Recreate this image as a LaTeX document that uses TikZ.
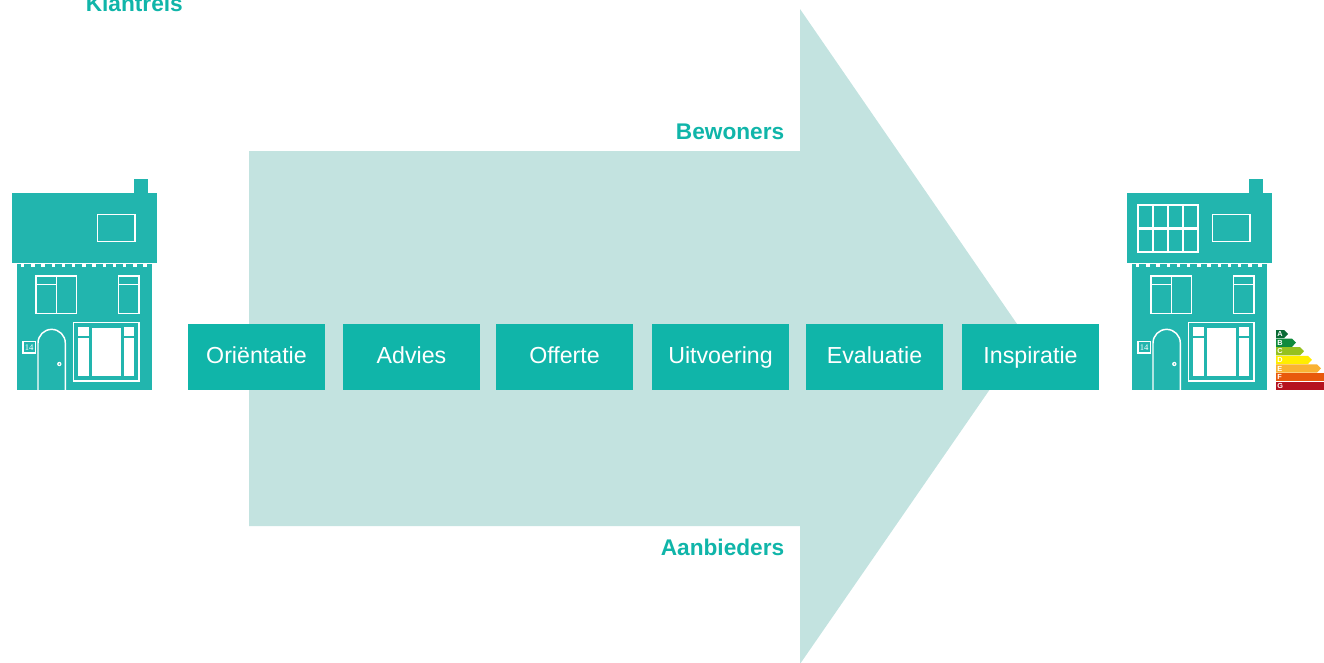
\documentclass[tikz,border=0pt]{standalone}
\usepackage{fontspec}
\setmainfont{Liberation Sans}
\newfontfamily\plaatfont{Liberation Serif}
\usetikzlibrary{positioning}

\definecolor{boxgreen}{HTML}{10B5A9}
\definecolor{housegreen}{HTML}{22B5AE}
\definecolor{arrowgreen}{HTML}{C3E3E0}
\definecolor{labelA}{HTML}{0A6B35}
\definecolor{labelB}{HTML}{0F8A3C}
\definecolor{labelC}{HTML}{95C11F}
\definecolor{labelD}{HTML}{FFED00}
\definecolor{labelE}{HTML}{F9B233}
\definecolor{labelF}{HTML}{E8590C}
\definecolor{labelG}{HTML}{B5121F}

\tikzset{
  stepbox/.style={fill=boxgreen,text=white,minimum width=103pt,minimum height=49.5pt,
                  inner sep=0pt,text height=12pt,text depth=3pt,
                  font=\fontsize{17.4}{20}\selectfont},
  heading/.style={text=boxgreen,inner sep=0pt,font=\fontsize{17}{20}\selectfont\bfseries},
  pane/.style={draw=white,line width=1.1pt},
  pics/woning/.style={code={
    \fill[housegreen] (12,193) rectangle (157,262.5);
    \fill[housegreen] (134,179) rectangle (148,193);
    \fill[housegreen] (17,264) rectangle (152,390);
    \foreach \tand in {0,...,12}
      \fill[white] (21+10.2*\tand,264) rectangle +(3.4,3.4);
    \draw[pane] (97.3,214.3) rectangle (135,241.7);
    % ramen boven
    \draw[pane] (36,276) rectangle (76.7,313.7);
    \draw[pane] (56.3,276) -- (56.3,313.7) (36,284.3) -- (56.3,284.3);
    \draw[pane] (118.3,276) rectangle (139,313.7);
    \draw[pane] (118.3,284.3) -- (139,284.3);
    % etalage
    \draw[pane] (73.7,322.7) rectangle (139,381);
    \fill[white] (78.3,327.3) rectangle (89.3,336);
    \fill[white] (78.3,337.7) rectangle (89.3,376);
    \fill[white] (92,327.5) rectangle (120.7,375.7);
    \fill[white] (123.7,327.3) rectangle (134.3,336);
    \fill[white] (123.7,337.7) rectangle (134.3,376);
    % deur
    \draw[pane] (38,390) -- (38,343) arc[start angle=180,end angle=0,x radius=13.65,y radius=-13.65] -- (65.3,390);
    \fill[white] (59.3,364) circle (2.2);
    \fill[housegreen] (59.3,364) circle (0.8);
    \node[pane,text=white,minimum width=9.5pt,minimum height=8.8pt,inner sep=0pt,
          font=\fontsize{6.5}{7}\selectfont\plaatfont] (-nummer) at (29.2,347.3) {14};
  }},
}

\begin{document}
\begin{tikzpicture}[x=0.75pt,y=-0.75pt]
\useasboundingbox (0,0) rectangle (1324,662);

% pijl
\fill[arrowgreen] (249,151) -- (800,151) -- (800,9) -- (1026,337) -- (800,664) -- (800,526) -- (249,526) -- cycle;

\node[heading,anchor=base west] (klantreis) at (85.5,11) {Klantreis};
\node[heading,anchor=base east] (bewoners) at (784.5,139) {Bewoners};
\node[heading,anchor=base east] (aanbieders) at (784.5,555.5) {Aanbieders};

\begin{scope}[every node/.style={stepbox}]
    \node (orientatie) at (256.5,357) {Oriëntatie};
    \node (advies) at (411.5,357) {Advies};
    \node (offerte) at (564.5,357) {Offerte};
    \node (uitvoering) at (720.5,357) {Uitvoering};
    \node (evaluatie) at (874.5,357) {Evaluatie};
    \node (inspiratie) at (1030.5,357) {Inspiratie};
\end{scope}

\pic (oud) at (0,0) {woning};
\pic (nieuw) at (1115,0) {woning};

% zonnepanelen
\draw[white,line width=1.6pt] (1138.3,205.3) rectangle (1197.7,251.7);
\draw[white,line width=1.6pt] (1138.3,228.5) -- (1197.7,228.5);
\foreach \paneel in {1,2,3}
    \draw[white,line width=1.6pt] (1138.3+14.85*\paneel,205.3) -- (1138.3+14.85*\paneel,251.7);

% energielabel
\foreach \letter/\eind/\rij in {A/1288/0,B/1296/1,C/1304/2,D/1312/3,E/1321/4} {
    \fill[label\letter] (1276,330+8.6*\rij) -- (\eind-4,330+8.6*\rij) -- (\eind,334+8.6*\rij)
        -- (\eind-4,338.2+8.6*\rij) -- (1276,338.2+8.6*\rij) -- cycle;
}
\foreach \letter/\rij in {F/5,G/6}
    \fill[label\letter] (1276,330+8.6*\rij) rectangle (1324,338.2+8.6*\rij);
\foreach \letter/\rij in {A/0,B/1,C/2,D/3,E/4,F/5,G/6}
    \node[text=white,inner sep=0pt,font=\fontsize{5.5}{6}\selectfont\bfseries,anchor=west]
        (letter\letter) at (1277,334.2+8.6*\rij) {\letter};
\end{tikzpicture}
\end{document}
